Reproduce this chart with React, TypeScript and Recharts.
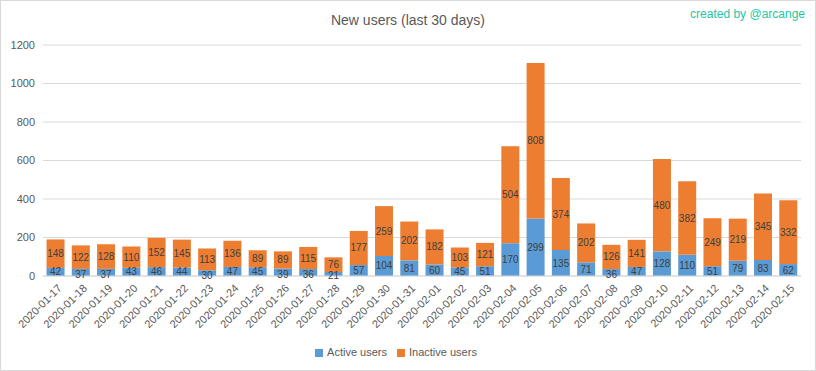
import { BarChart, Bar, XAxis, YAxis, CartesianGrid, Legend, LabelList } from "recharts";

const dates = [
  "2020-01-17", "2020-01-18", "2020-01-19", "2020-01-20", "2020-01-21", "2020-01-22",
  "2020-01-23", "2020-01-24", "2020-01-25", "2020-01-26", "2020-01-27", "2020-01-28",
  "2020-01-29", "2020-01-30", "2020-01-31", "2020-02-01", "2020-02-02", "2020-02-03",
  "2020-02-04", "2020-02-05", "2020-02-06", "2020-02-07", "2020-02-08", "2020-02-09",
  "2020-02-10", "2020-02-11", "2020-02-12", "2020-02-13", "2020-02-14", "2020-02-15",
];
const activeUsers = [42, 37, 37, 43, 46, 44, 30, 47, 45, 39, 36, 21, 57, 104, 81, 60, 45, 51, 170, 299, 135, 71, 36, 47, 128, 110, 51, 79, 83, 62];
const inactiveUsers = [148, 122, 128, 110, 152, 145, 113, 136, 89, 89, 115, 76, 177, 259, 202, 182, 103, 121, 504, 808, 374, 202, 126, 141, 480, 382, 249, 219, 345, 332];
const yTicks = [0, 200, 400, 600, 800, 1000, 1200];

const data = dates.map((d, i) => ({ date: d, active: activeUsers[i], inactive: inactiveUsers[i] }));

const FONT = "'Liberation Sans', Arial, sans-serif";
const GREY = "#595959";

const XTick = (props: any) => {
  const { x, y, payload } = props;
  return (
    <g transform={`translate(${x + 4},${y + 2})`}>
      <text transform="rotate(-45)" textAnchor="end" dy={4} fontSize={11} fill={GREY} fontFamily={FONT}>
        {payload.value}
      </text>
    </g>
  );
};

// segment label, centred; pushed a little lower for the very short blue segments
const SegLabel = (props: any) => {
  const { x, y, width, height, value, low } = props;
  let cy = y + height / 2;
  if (low && Math.abs(height) < 8) cy += 2;
  return (
    <text x={x + width / 2} y={cy} dy="0.35em" textAnchor="middle" fontSize={10} fill="#404040" fontFamily={FONT}>
      {value}
    </text>
  );
};

export default function App() {
  return (
    <div
      style={{
        position: "absolute",
        left: 0,
        top: 0,
        width: 816,
        height: 371,
        boxSizing: "border-box",
        border: "1px solid #d9d9d9",
        background: "#fff",
        fontFamily: FONT,
      }}
    >
      <div style={{ position: "absolute", top: 11, width: "100%", textAlign: "center", fontSize: 14, color: GREY }}>
        New users (last 30 days)
      </div>
      <div style={{ position: "absolute", top: 6, right: 10, fontSize: 12, color: "#22c7a6" }}>created by @arcange</div>
      <BarChart
        width={814}
        height={369}
        data={data}
        margin={{ top: 44, right: 14, left: 0, bottom: 2 }}
        barCategoryGap="14%"
        style={{ position: "absolute", left: 0, top: 0 }}
      >
        <CartesianGrid vertical={false} stroke="#d9d9d9" />
        <XAxis
          dataKey="date"
          interval={0}
          tick={<XTick />}
          tickLine={false}
          axisLine={{ stroke: "#d9d9d9" }}
          height={70}
        />
        <YAxis
          width={42}
          domain={[0, 1200]}
          ticks={yTicks}
          tickLine={false}
          axisLine={false}
          tick={{ fontSize: 11, fill: GREY, fontFamily: FONT }}
        />
        <Legend
          height={22}
          iconType="square"
          iconSize={8}
          wrapperStyle={{ fontSize: 11, color: GREY, fontFamily: FONT }}
          formatter={(v: string) => <span style={{ color: GREY }}>{v}</span>}
        />
        <Bar dataKey="active" name="Active users" stackId="a" fill="#5b9bd5" isAnimationActive={false}>
          <LabelList dataKey="active" content={(p: any) => <SegLabel {...p} low />} />
        </Bar>
        <Bar dataKey="inactive" name="Inactive users" stackId="a" fill="#ed7d31" isAnimationActive={false}>
          <LabelList dataKey="inactive" content={(p: any) => <SegLabel {...p} />} />
        </Bar>
      </BarChart>
    </div>
  );
}
